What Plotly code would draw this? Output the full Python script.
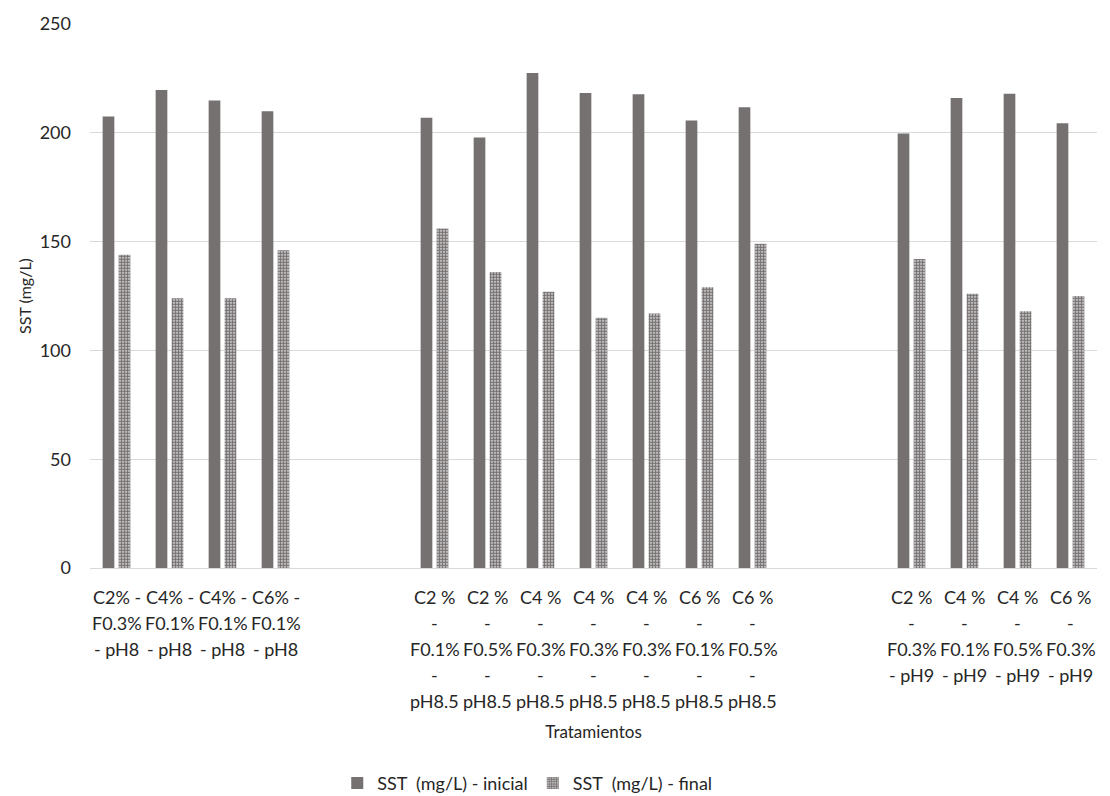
import plotly.graph_objects as go

# Treatment groups (label lines as they wrap under each bar pair)
group_ph8 = [
    ["C2% -", "F0.3%", "- pH8"],
    ["C4% -", "F0.1%", "- pH8"],
    ["C4% -", "F0.1%", "- pH8"],
    ["C6% -", "F0.1%", "- pH8"],
]
group_ph85 = [
    ["C2 %", "-", "F0.1%", "-", "pH8.5"],
    ["C2 %", "-", "F0.5%", "-", "pH8.5"],
    ["C4 %", "-", "F0.3%", "-", "pH8.5"],
    ["C4 %", "-", "F0.3%", "-", "pH8.5"],
    ["C4 %", "-", "F0.3%", "-", "pH8.5"],
    ["C6 %", "-", "F0.1%", "-", "pH8.5"],
    ["C6 %", "-", "F0.5%", "-", "pH8.5"],
]
group_ph9 = [
    ["C2 %", "-", "F0.3%", "- pH9"],
    ["C4 %", "-", "F0.1%", "- pH9"],
    ["C4 %", "-", "F0.5%", "- pH9"],
    ["C6 %", "-", "F0.3%", "- pH9"],
]

# SST (mg/L) per treatment
sst_inicial_ph8 = [207.5, 219.7, 214.9, 209.9]
sst_final_ph8 = [144, 124, 124, 146]
sst_inicial_ph85 = [206.9, 197.8, 227.5, 218.3, 217.7, 205.7, 211.7]
sst_final_ph85 = [156, 136, 127, 115, 117, 129, 149]
sst_inicial_ph9 = [199.7, 216, 218, 204.4]
sst_final_ph9 = [142, 126, 118, 125]

y_ticks = [0, 50, 100, 150, 200, 250]

GAP_SLOTS = 2  # empty category slots between pH groups

labels, inicial, final, xpos = [], [], [], []
slot = 0
for grp, ini, fin in [
    (group_ph8, sst_inicial_ph8, sst_final_ph8),
    (group_ph85, sst_inicial_ph85, sst_final_ph85),
    (group_ph9, sst_inicial_ph9, sst_final_ph9),
]:
    for lab, a, b in zip(grp, ini, fin):
        labels.append(lab)
        inicial.append(a)
        final.append(b)
        xpos.append(slot)
        slot += 1
    slot += GAP_SLOTS
n_slots = slot - GAP_SLOTS

FONT = "Lato"
TXT = "#262626"
BAR = "#767171"

fig = go.Figure()
fig.add_trace(go.Bar(
    x=xpos, y=inicial, name="SST  (mg/L) - inicial",
    marker=dict(color=BAR, line=dict(width=0)),
))
fig.add_trace(go.Bar(
    x=xpos, y=final, name="SST  (mg/L) - final",
    marker=dict(
        color="#ffffff",
        line=dict(width=0),
        pattern=dict(shape=".", size=3, solidity=0.7,
                     fgcolor=BAR, bgcolor="#e8e8e8", fillmode="replace"),
    ),
))

# Wrapped category labels, one annotation per line
LINE_H = 26
for x, lab in zip(xpos, labels):
    for i, line in enumerate(lab):
        fig.add_annotation(
            x=x, xref="x", y=0, yref="y",
            yshift=-(29 + LINE_H * i), yanchor="middle", xanchor="center",
            text=line, showarrow=False,
            font=dict(family=FONT, size=18, color=TXT),
        )

fig.update_layout(
    width=1110, height=796,
    margin=dict(l=90, r=13, t=21, b=228),
    paper_bgcolor="white", plot_bgcolor="white",
    barmode="group", bargap=0.396, bargroupgap=0.27,
    font=dict(family=FONT, size=18, color=TXT),
    showlegend=True,
    legend=dict(
        orientation="h", xref="container", yref="container",
        x=0.475, xanchor="center", y=0.016, yanchor="middle",
        font=dict(family=FONT, size=18, color=TXT),
        itemwidth=30, traceorder="normal",
    ),
    xaxis=dict(
        range=[-0.5, n_slots - 0.5],
        showticklabels=False, ticks="",
        showgrid=False, zeroline=False,
        showline=True, linecolor="#d9d9d9", linewidth=1,
        title=dict(text="Tratamientos", standoff=158,
                   font=dict(family=FONT, size=17, color=TXT)),
    ),
    yaxis=dict(
        range=[0, 250], tickvals=y_ticks,
        showgrid=True, gridcolor="#d9d9d9", gridwidth=1,
        zeroline=False, showline=False, ticks="",
        ticklabelstandoff=18,
        tickfont=dict(family=FONT, size=18, color=TXT),
        title=dict(text="SST (mg/L)", standoff=4,
                   font=dict(family=FONT, size=16, color=TXT)),
    ),
)

fig.write_html("out.html")
